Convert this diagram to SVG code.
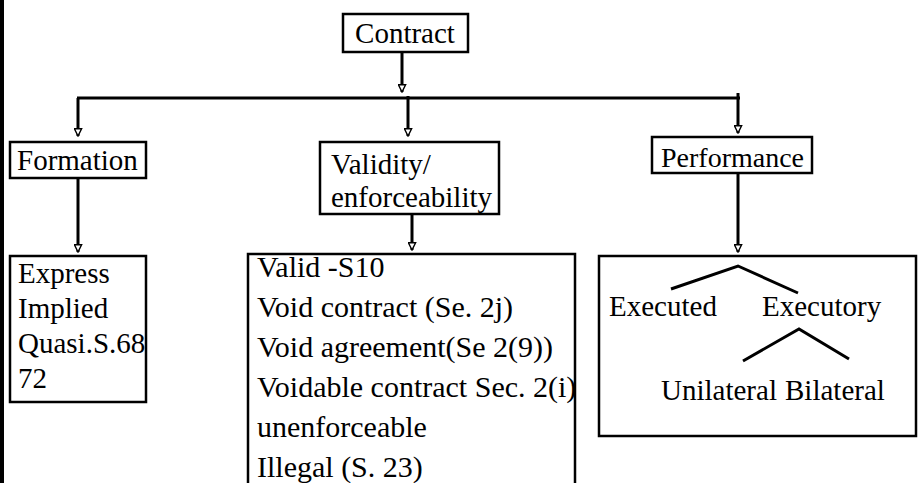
<svg xmlns="http://www.w3.org/2000/svg" width="920" height="483" viewBox="0 0 920 483">
<style>
.box{fill:#fff;stroke:#000;stroke-width:2.5}
.c{stroke:#000;stroke-width:3;fill:none}
</style>
<defs>
<marker id="ah" viewBox="0 0 10 10" refX="9" refY="5" markerWidth="10" markerHeight="9" markerUnits="userSpaceOnUse" orient="auto">
<path d="M1,1 L9,5 L1,9 z" fill="#fff" stroke="#000" stroke-width="1.6"/>
</marker>
</defs>
<rect x="0" y="0" width="4" height="483" fill="#000"/>
<g id="connectors">
<line class="c" x1="402" y1="52" x2="402" y2="92" marker-end="url(#ah)"/>
<line class="c" x1="77" y1="98" x2="740" y2="98" stroke-width="3.5"/>
<line class="c" x1="78" y1="98" x2="78" y2="136" marker-end="url(#ah)"/>
<line class="c" x1="408" y1="96" x2="408" y2="136" marker-end="url(#ah)"/>
<line class="c" x1="738" y1="93" x2="738" y2="133" marker-end="url(#ah)"/>
<line class="c" x1="78" y1="178" x2="78" y2="252" marker-end="url(#ah)"/>
<line class="c" x1="412" y1="214" x2="412" y2="250" marker-end="url(#ah)"/>
<line class="c" x1="738" y1="173" x2="738" y2="252" marker-end="url(#ah)"/>
</g>
<g font-family="Liberation Serif, Times New Roman, serif" font-size="29" fill="#000">
<g id="contract">
<rect class="box" x="343" y="14" width="125" height="38"/>
<text x="405" y="43" text-anchor="middle">Contract</text>
</g>
<g id="formation">
<rect class="box" x="10" y="142" width="136" height="36"/>
<text x="17" y="170">Formation</text>
</g>
<g id="validity">
<rect class="box" x="320" y="142" width="179" height="72"/>
<text x="331" y="174">Validity/</text>
<text x="331" y="207">enforceability</text>
</g>
<g id="performance">
<rect class="box" x="652" y="137" width="160" height="36"/>
<text x="661" y="167" font-size="28">Performance</text>
</g>
<g id="formation-types">
<rect class="box" x="10" y="256" width="136" height="146"/>
<text x="18" y="283">Express</text>
<text x="18" y="318">Implied</text>
<text x="18" y="353">Quasi.S.68</text>
<text x="18" y="388">72</text>
</g>
<g id="validity-types">
<rect class="box" x="248" y="254" width="327" height="240"/>
<text x="257" y="277" font-size="30">Valid -S10</text>
<text x="257" y="317" font-size="30">Void contract (Se. 2j)</text>
<text x="257" y="357" font-size="30">Void agreement(Se 2(9))</text>
<text x="257" y="397" font-size="30">Voidable contract Sec. 2(i)</text>
<text x="257" y="437" font-size="30">unenforceable</text>
<text x="257" y="477" font-size="30">Illegal (S. 23)</text>
</g>
<g id="performance-types">
<rect class="box" x="599" y="256" width="317" height="180"/>
<polyline class="c" points="671,289 738,266 798,293" stroke-width="2.5"/>
<text x="609" y="316">Executed</text>
<text x="762" y="316">Executory</text>
<polyline class="c" points="743,361 799,329 849,359" stroke-width="2.5"/>
<text x="661" y="400">Unilateral</text>
<text x="785" y="400">Bilateral</text>
</g>
</g>
</svg>
